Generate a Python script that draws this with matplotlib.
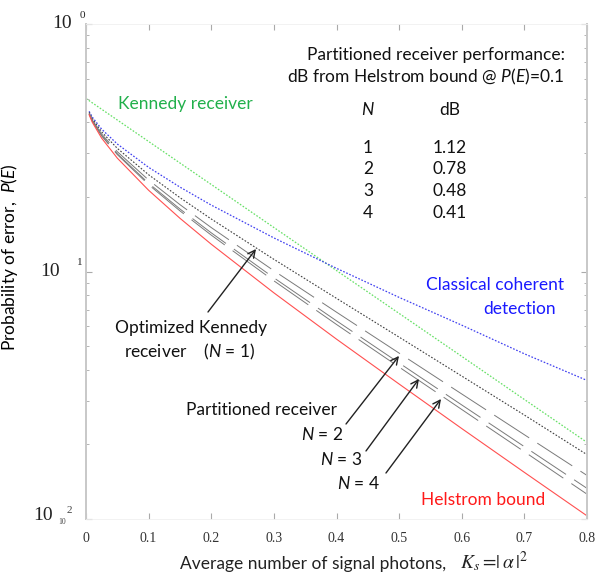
import matplotlib
matplotlib.use("Agg")
import matplotlib.pyplot as plt

plt.rcParams["mathtext.fontset"] = "custom"
plt.rcParams["mathtext.rm"] = "Lato"
plt.rcParams["mathtext.it"] = "Lato:italic"
plt.rcParams["lines.scale_dashes"] = False

# mean photon number grid used by the receiver curves
n_photons = [0.005, 0.01, 0.025, 0.05, 0.1, 0.15, 0.2, 0.3, 0.4, 0.5, 0.6, 0.7, 0.8]

helstrom = [0.4296, 0.401, 0.3457, 0.2871, 0.2129, 0.1641, 0.1289, 0.0820,
            0.0533, 0.0351, 0.0232, 0.01543, 0.0103]
coherent = [0.4438, 0.4207, 0.3759, 0.3274, 0.2635, 0.2193, 0.1855, 0.1367,
            0.1030, 0.0786, 0.0607, 0.0465, 0.0363]
opt_kennedy = [0.4396, 0.4148, 0.3665, 0.3144, 0.246, 0.1988, 0.163, 0.1120,
               0.0779, 0.0543, 0.0378, 0.0263, 0.0182]
part_n2 = [0.4361, 0.4101, 0.3593, 0.3048, 0.2342, 0.1863, 0.1505, 0.1007,
           0.0685, 0.0468, 0.0320, 0.0219, 0.0150]
part_n3 = [0.4341, 0.4072, 0.3548, 0.2991, 0.2272, 0.1789, 0.1433, 0.0943,
           0.0632, 0.0427, 0.0289, 0.0196, 0.0133]
part_n4 = [0.4332, 0.4060, 0.3530, 0.2967, 0.2243, 0.1758, 0.1403, 0.0917,
           0.0611, 0.0411, 0.0277, 0.0187, 0.0126]

kennedy_n = [0, 0.1, 0.2, 0.3, 0.4, 0.5, 0.6, 0.7, 0.8]
kennedy = [0.5, 0.3352, 0.2247, 0.1506, 0.1009, 0.0677, 0.0454, 0.0304, 0.0204]

table_n = ["1", "2", "3", "4"]
table_db = ["1.12", "0.78", "0.48", "0.41"]

x_ticks = [0, 0.1, 0.2, 0.3, 0.4, 0.5, 0.6, 0.7, 0.8]
x_ticklabels = ["0", "0.1", "0.2", "0.3", "0.4", "0.5", "0.6", "0.7", "0.8"]

sans = "Lato"
serif = "Liberation Serif"

fig = plt.figure(figsize=(5.98, 5.75), dpi=100)
ax = fig.add_axes([86 / 598, 1 - 519 / 575, 501 / 598, 495 / 575])

ax.plot(kennedy_n, kennedy, color="#66e066", lw=0.9, ls=(0, (1.2, 1.2)))
ax.plot(n_photons, coherent, color="#4040f0", lw=0.9, ls=(0, (1.2, 1.2)))
ax.plot(n_photons, opt_kennedy, color="#404040", lw=0.8, ls=(0, (1.2, 1.2)))
for series in [part_n2, part_n3, part_n4]:
    ax.plot(n_photons, series, color="#7a7a7a", lw=0.7, ls=(4, (30, 7)))
ax.plot(n_photons, helstrom, color="#ff5050", lw=0.8)

ax.set_yscale("log")
ax.set_xlim(0, 0.8)
ax.set_ylim(0.01, 1)

for side in ["left", "right"]:
    ax.spines[side].set_color("#c8c8c8")
    ax.spines[side].set_linewidth(1.4)
for side in ["top", "bottom"]:
    ax.spines[side].set_color("#f0f0f0")
    ax.spines[side].set_linewidth(0.6)

ax.set_xticks(x_ticks)
ax.set_xticklabels(x_ticklabels, fontfamily=serif, fontsize=10, color="#333333")
ax.tick_params(axis="x", which="both", direction="in", top=True, length=4,
               color="#aaaaaa", pad=9)
ax.tick_params(axis="y", which="major", direction="in", right=True, length=4,
               color="#aaaaaa", labelleft=False)
ax.tick_params(axis="y", which="minor", direction="in", right=True, length=2.5,
               color="#aaaaaa", labelleft=False)

# y tick labels drawn by hand, as in the source figure
ytr = ax.get_yaxis_transform()
ax.text(-0.028, 1.0, "10", transform=ytr, ha="right", va="center",
        fontfamily=serif, fontsize=14, color="#222222", clip_on=False)
ax.text(-0.012, 1.08, "0", transform=ytr, ha="left", va="center",
        fontfamily=serif, fontsize=8, color="#222222", clip_on=False)
ax.text(-0.052, 0.1, "10", transform=ytr, ha="right", va="center",
        fontfamily=serif, fontsize=14, color="#222222", clip_on=False)
ax.text(-0.018, 0.109, "1", transform=ytr, ha="left", va="center",
        fontfamily=serif, fontsize=8, color="#222222", clip_on=False)
ax.text(-0.066, 0.0103, "10", transform=ytr, ha="right", va="center",
        fontfamily=serif, fontsize=14, color="#222222", clip_on=False)
ax.text(-0.056, 0.0097, "10", transform=ytr, ha="left", va="center",
        fontfamily=serif, fontsize=5.5, color="#444444", clip_on=False)
ax.text(-0.038, 0.0108, "2", transform=ytr, ha="left", va="center",
        fontfamily=serif, fontsize=8, color="#444444", clip_on=False)

ax.set_ylabel("Probability of error,  $P$($E$)", fontfamily=sans, fontsize=12.5)
ax.yaxis.set_label_coords(-0.1317, 0.5293)

ax.text(0.1876, -0.0909, "Average number of signal photons,", transform=ax.transAxes,
        ha="left", va="center", fontfamily=sans, fontsize=12.5, color="#222222")
ax.text(0.7465, -0.0869, r"$K_s =\!|\,\alpha\,|^2$", transform=ax.transAxes,
        ha="left", va="center", fontsize=14, math_fontfamily="stix", color="#222222")

tx = dict(transform=ax.transAxes, fontfamily=sans, fontsize=12.5, va="center")
ax.text(0.0639, 0.8384, "Kennedy receiver", ha="left", color="#21b04b", **tx)
ax.text(0.6986, 0.9374, "Partitioned receiver performance:", ha="center",
        color="#111111", **tx)
ax.text(0.6786, 0.8929, "dB from Helstrom bound @ $P$($E$)=0.1", ha="center",
        color="#111111", **tx)
ax.text(0.5629, 0.8263, "$N$", ha="center", color="#111111", **tx)
ax.text(0.7265, 0.8263, "dB", ha="center", color="#111111", **tx)
row_y = [0.7495, 0.7071, 0.6626, 0.6182]
for yy, nn, db in zip(row_y, table_n, table_db):
    ax.text(0.5629, yy, nn, ha="center", color="#111111", **tx)
    ax.text(0.7265, yy, db, ha="center", color="#111111", **tx)

ax.text(0.8154, 0.4727, "Classical coherent", ha="center", color="#1a1aff", **tx)
ax.text(0.8653, 0.4242, "detection", ha="center", color="#1a1aff", **tx)
ax.text(0.2096, 0.3859, "Optimized Kennedy", ha="center", color="#111111", **tx)
ax.text(0.2076, 0.3374, "receiver    ($N$ = 1)", ha="center", color="#111111", **tx)
ax.text(0.3503, 0.2202, "Partitioned receiver", ha="center", color="#111111", **tx)
ax.text(0.4721, 0.1697, "$N$ = 2", ha="center", color="#111111", **tx)
ax.text(0.5090, 0.1212, "$N$ = 3", ha="center", color="#111111", **tx)
ax.text(0.5439, 0.0727, "$N$ = 4", ha="center", color="#111111", **tx)
ax.text(0.7924, 0.0384, "Helstrom bound", ha="center", color="#ff1a1a", **tx)

arrow = dict(arrowstyle="->", color="#222222", lw=1.0, mutation_scale=13,
             shrinkA=0, shrinkB=0)
ax.annotate("", xy=(0.2715, 0.1233), xytext=(0.1948, 0.0686), arrowprops=arrow)
ax.annotate("", xy=(0.4998, 0.0456), xytext=(0.4152, 0.0242), arrowprops=arrow)
ax.annotate("", xy=(0.5317, 0.0368), xytext=(0.4471, 0.01883), arrowprops=arrow)
ax.annotate("", xy=(0.5669, 0.03054), xytext=(0.4790, 0.01534), arrowprops=arrow)

fig.savefig("out.png", dpi=100)
